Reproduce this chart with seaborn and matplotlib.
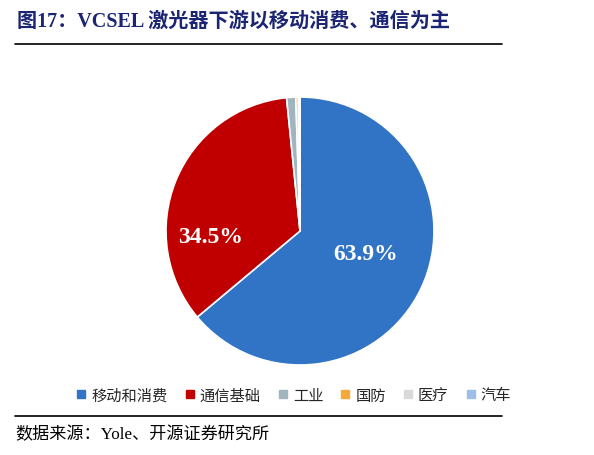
import numpy as np
import seaborn as sns
import matplotlib.pyplot as plt
from matplotlib.lines import Line2D

# data
categories = ["移动和消费", "通信基础", "工业", "国防", "医疗", "汽车"]
shares     = [63.9, 34.5, 1.1, 0.3, 0.1, 0.1]
colors     = ["#3174C5", "#C00000", "#A0B5C0", "#F5A93B", "#D9D9D9", "#9DBEE6"]

title_text  = "图17：VCSEL 激光器下游以移动消费、通信为主"
source_text = "数据来源：Yole、开源证券研究所"

sns.set_theme(style="white")
plt.rcParams['font.family'] = ['Liberation Serif', 'Noto Sans CJK SC', 'DejaVu Sans']

W, H = 594, 456
fig = plt.figure(figsize=(W / 100, H / 100), dpi=100)

# pie axes: centre ~ (300, 232) px, radius ~ 133 px
cx, cy, r = 300, 232, 134
ax = fig.add_axes([(cx - r) / W, (H - cy - r) / H, 2 * r / W, 2 * r / H])

def pct(v):
    return f"{v:.1f}%" if v > 10 else ""

wedges, texts, autotexts = ax.pie(
    shares, colors=colors, startangle=90, counterclock=False,
    autopct=pct, pctdistance=0.55,
    wedgeprops=dict(edgecolor="white", linewidth=1.2),
    textprops=dict(color="white", fontsize=17, fontweight="bold",
                   family=['Liberation Serif', 'DejaVu Sans']))
autotexts[0].set_position((0.49, -0.17))
autotexts[1].set_position((-0.67, -0.04))
ax.set_xlim(-1, 1)
ax.set_ylim(-1, 1)
ax.set_aspect("equal")

# legend
handles = [Line2D([0], [0], marker="s", linestyle="", markersize=6,
                  markerfacecolor=c, markeredgecolor=c) for c in colors]
leg = fig.legend(handles, categories, loc="center", bbox_to_anchor=(294 / W, 1 - 396 / H),
                 ncol=6, frameon=False, handlelength=0.6, handletextpad=0.35,
                 columnspacing=1.15, prop=dict(family=['Noto Sans CJK SC'], size=11))

# title and rules
fig.text(17 / W, 1 - 22 / H, title_text, ha="left", va="center", fontsize=14.5,
         fontweight="bold", color="#1B2573")
fig.add_artist(Line2D([15 / W, 502 / W], [1 - 45 / H, 1 - 45 / H], color="black", lw=1.2))
fig.add_artist(Line2D([15 / W, 502 / W], [1 - 417 / H, 1 - 417 / H], color="black", lw=1.2))
fig.text(15 / W, 1 - 435 / H, source_text, ha="left", va="center", fontsize=12.3,
         color="black")

plt.savefig("out.png", dpi=100)
